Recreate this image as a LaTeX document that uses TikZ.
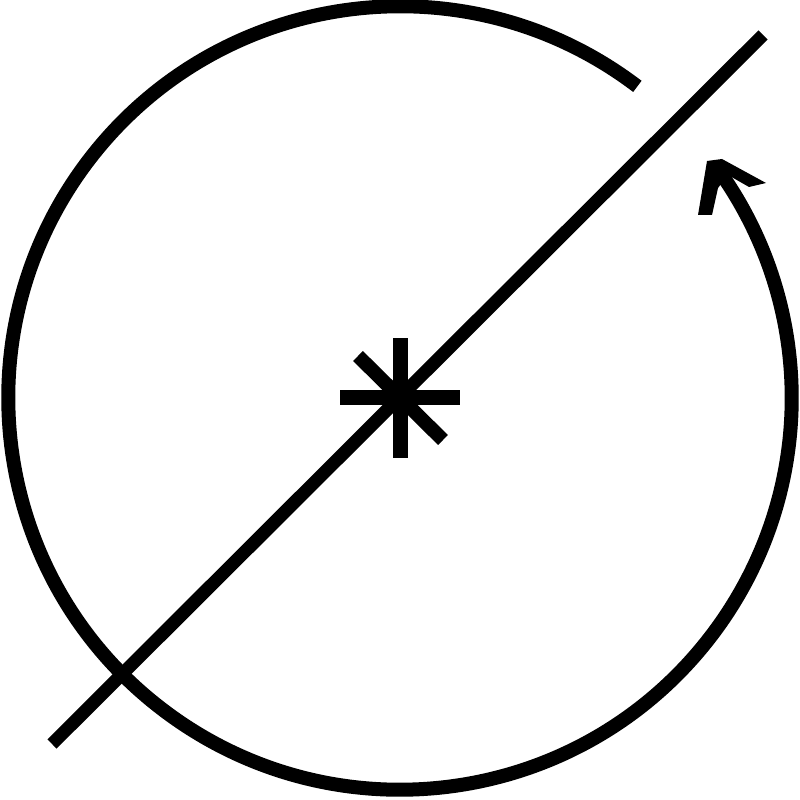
\documentclass[tikz,border=0pt]{standalone}
\begin{document}
\begin{tikzpicture}[x=0.01cm, y=0.01cm,
  stroke/.style={line width=0.14cm, line cap=butt},
  starbar/.style={line width=0.15cm, line cap=butt}]
\useasboundingbox (0,0) rectangle (800,800);
% center of circle: (400,402)
\coordinate (c) at (400,402);
\coordinate (arcstart) at ([shift={(c)}]52.7:3.915cm);
\draw[stroke] (arcstart) arc[start angle=52.7, end angle=395, radius=3.915cm];
% arrowhead
\fill (707,639) -- (722,641) -- (766,617) -- (749,613) -- (728,625) -- (718,612) -- (712,585) -- (698,585) -- cycle;
% diagonal line
\coordinate (d1) at (52,56);
\coordinate (d2) at (763,765);
\draw[line width=0.13cm] (d1) -- (d2);
% asterisk
\coordinate (s) at (400,402);
\draw[starbar] ([shift={(0,-60)}]s) -- ([shift={(0,60)}]s);
\draw[starbar] ([shift={(-60,0)}]s) -- ([shift={(60,0)}]s);
\draw[line width=0.14cm] ([shift={(-42,42)}]s) -- ([shift={(43,-42)}]s);
\end{tikzpicture}
\end{document}
